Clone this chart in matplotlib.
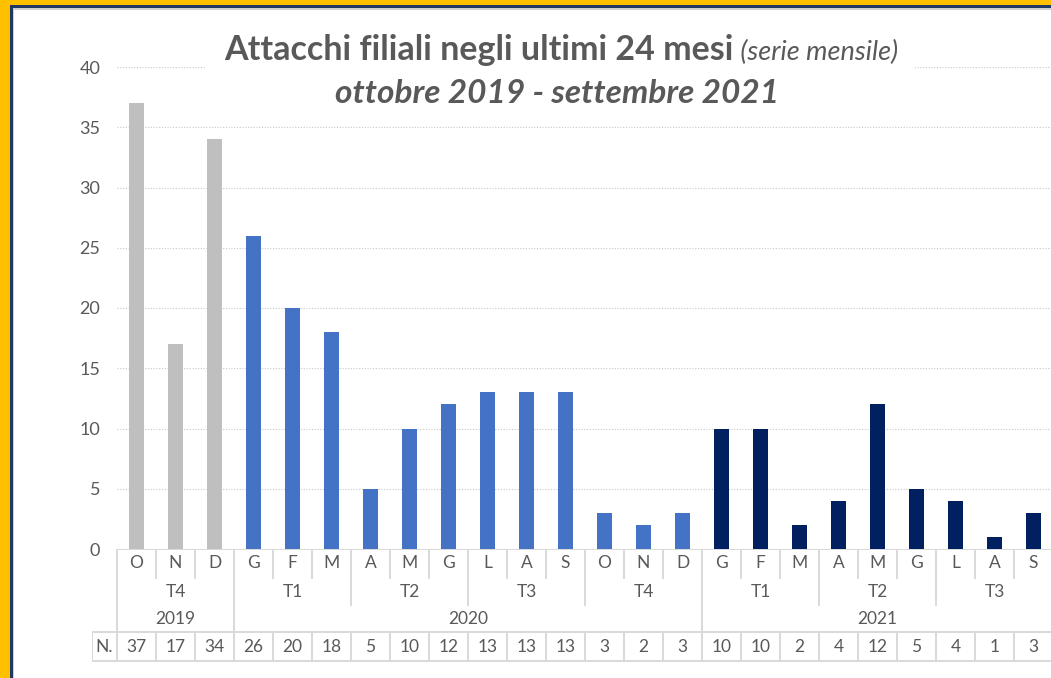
import matplotlib
matplotlib.use("Agg")
import matplotlib.pyplot as plt
from matplotlib.patches import Rectangle

# --- data ---
months = ['O', 'N', 'D', 'G', 'F', 'M', 'A', 'M', 'G', 'L', 'A', 'S',
          'O', 'N', 'D', 'G', 'F', 'M', 'A', 'M', 'G', 'L', 'A', 'S']
values = [37, 17, 34, 26, 20, 18, 5, 10, 12, 13, 13, 13,
          3, 2, 3, 10, 10, 2, 4, 12, 5, 4, 1, 3]
quarters = ['T4', 'T1', 'T2', 'T3', 'T4', 'T1', 'T2', 'T3']
quarter_len = [3, 3, 3, 3, 3, 3, 3, 3]
years = ['2019', '2020', '2021']
year_len = [3, 12, 9]
year_colors = ['#BFBFBF', '#4472C4', '#002060']

TXT = '#595959'
LINE = '#D9D9D9'
plt.rcParams['font.family'] = ['Lato', 'DejaVu Sans']

W, H = 1051, 678
fig = plt.figure(figsize=(W / 100, H / 100), dpi=100)

def fx(px):
    return px / W

def fy(py):
    return 1 - py / H

# plot area: x 117..1053 px, y 67 (40) .. 549 (0)
x0, x1, ytop, ybot = 117, 1053, 67, 549
ax = fig.add_axes([fx(x0), fy(ybot), fx(x1) - fx(x0), fy(ytop) - fy(ybot)])
n = len(months)
colors = []
for c, k in zip(year_colors, year_len):
    colors += [c] * k
ax.bar(range(n), values, width=0.41, color=colors, zorder=3)
ax.set_xlim(-0.5, n - 0.5)
ax.set_ylim(0, 40)
ax.set_yticks(range(0, 41, 5))
ax.tick_params(axis='y', length=0, pad=12, labelsize=13, labelcolor=TXT)
ax.set_xticks([])
for s in ax.spines.values():
    s.set_visible(False)
ax.grid(axis='y', color='#C8C8C8', linestyle=(0, (1, 1.5)), linewidth=0.8, zorder=0)

# --- category table below the plot ---
tax = fig.add_axes([fx(x0 - 25), fy(662), fx(x1) - fx(x0 - 25), fy(ybot) - fy(662)])
tax.set_xlim(-0.5 - 25 / 39, n - 0.5)
tax.set_ylim(662 - ybot, 0)
tax.axis('off')
r_m, r_q, r_y, r_n = 29, 56, 83, 112  # row bottoms in px below the axis
lw = 1.4
tax.plot([-0.5, n - 0.5], [0, 0], color=LINE, lw=lw)
q_edges = [0]
for k in quarter_len:
    q_edges.append(q_edges[-1] + k)
y_edges = [0]
for k in year_len:
    y_edges.append(y_edges[-1] + k)
for i in range(n + 1):
    xe = i - 0.5
    if i in y_edges:
        bottom = r_y
    elif i in q_edges:
        bottom = r_q
    else:
        bottom = r_m
    tax.plot([xe, xe], [0, bottom], color=LINE, lw=lw)
for i, m in enumerate(months):
    tax.text(i, 14, m, ha='center', va='center', fontsize=12.5, color=TXT)
for q, a, b in zip(quarters, q_edges[:-1], q_edges[1:]):
    tax.text((a + b - 1) / 2, 43, q, ha='center', va='center', fontsize=12.5, color=TXT)
for yr, a, b in zip(years, y_edges[:-1], y_edges[1:]):
    tax.text((a + b - 1) / 2, 70, yr, ha='center', va='center', fontsize=12.5, color=TXT)

# N. row
xl = -0.5 - 25 / 39
tax.plot([xl, n - 0.5], [r_y, r_y], color=LINE, lw=lw)
tax.plot([xl, n - 0.5], [r_n, r_n], color=LINE, lw=lw)
for xe in [xl] + [i - 0.5 for i in range(n + 1)]:
    tax.plot([xe, xe], [r_y, r_n], color=LINE, lw=lw)
tax.text((xl - 0.5) / 2, 98, 'N.', ha='center', va='center', fontsize=12.5, color=TXT)
for i, v in enumerate(values):
    tax.text(i, 98, str(v), ha='center', va='center', fontsize=12.5, color=TXT)

# --- title with white box over the gridline ---
fig.patches.append(Rectangle((fx(205), fy(115)), fx(915) - fx(205), fy(20) - fy(115),
                             transform=fig.transFigure, facecolor='white',
                             edgecolor='none', zorder=2))
renderer = fig.canvas.get_renderer()
t1 = fig.text(0, fy(60), 'Attacchi filiali negli ultimi 24 mesi', fontsize=24.5,
              fontweight='bold', color=TXT, zorder=3)
t2 = fig.text(0, fy(60), ' (serie mensile)', fontsize=19.5, fontstyle='italic',
              color=TXT, zorder=3)
w1 = t1.get_window_extent(renderer).width
w2 = t2.get_window_extent(renderer).width
start = 561 - (w1 + w2) / 2
t1.set_x(fx(start))
t2.set_x(fx(start + w1))
fig.text(fx(557), fy(103), 'ottobre 2019 - settembre 2021', fontsize=24,
         fontweight='bold', fontstyle='italic', color=TXT, ha='center', zorder=3)

# --- border (gold frame, navy and grey inner lines) ---
for (x, y, w, h, c) in [
    (0, 0, W, 5, '#FFC000'), (0, 0, 10, H, '#FFC000'),
    (10, 5, W, 3, '#1F3864'), (10, 5, 2.5, H, '#1F3864'),
    (12.5, 8, W, 1.5, '#D0D0D0'), (12.5, 8, 1.5, H, '#D0D0D0'),
]:
    fig.patches.append(Rectangle((fx(x), fy(y + h)), fx(w), h / H,
                                 transform=fig.transFigure, facecolor=c,
                                 edgecolor='none', zorder=5))

fig.savefig('out.png', dpi=100)
